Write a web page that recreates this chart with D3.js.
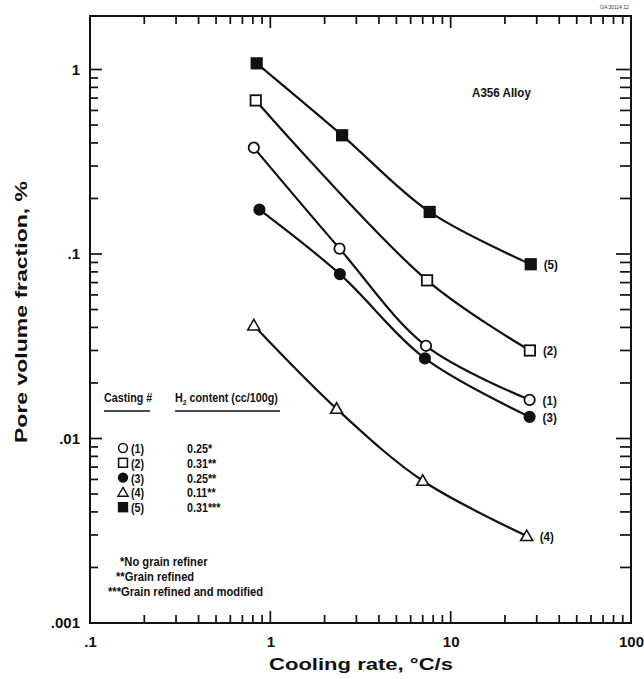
<!DOCTYPE html>
<html>
<head>
<meta charset="utf-8">
<script src="https://cdn.jsdelivr.net/npm/d3@7"></script>
<style>
  body { margin: 0; background: #fff; }
  svg { font-family: "Liberation Sans", Arial, sans-serif; }
</style>
</head>
<body>
<svg id="chart" width="644" height="679"></svg>
<script>
// casting data (x = cooling rate C/s, y = pore volume fraction %)
const castings = ["(1)", "(2)", "(3)", "(4)", "(5)"];
const symbols = ["circleOpen", "squareOpen", "circleFilled", "triangleOpen", "squareFilled"];
const h2Content = ["0.25*", "0.31**", "0.25**", "0.11**", "0.31***"];

const rate1 = [0.81, 2.42, 7.3, 27.4];
const pore1 = [0.377, 0.107, 0.0318, 0.0162];
const rate2 = [0.83, 7.4, 27.5];
const pore2 = [0.68, 0.072, 0.030];
const rate3 = [0.87, 2.43, 7.2, 27.4];
const pore3 = [0.174, 0.0778, 0.0272, 0.0131];
const rate4 = [0.81, 2.33, 7.0, 26.4];
const pore4 = [0.041, 0.0145, 0.0059, 0.00296];
const rate5 = [0.84, 2.5, 7.65, 27.8];
const pore5 = [1.08, 0.44, 0.169, 0.088];

const xMajor = [0.1, 1, 10, 100];
const xMajorLabels = [".1", "1", "10", "100"];
const yMajor = [0.001, 0.01, 0.1, 1];
const yMajorLabels = [".001", ".01", ".1", "1"];
const minorSteps = [2, 3, 4, 5, 6, 7, 8, 9];
const footnotes = ["*No grain refiner", "**Grain refined", "***Grain refined and modified"];

const series = [
  { x: rate1, y: pore1 },
  { x: rate2, y: pore2 },
  { x: rate3, y: pore3 },
  { x: rate4, y: pore4 },
  { x: rate5, y: pore5 }
];

const svg = d3.select("#chart");
const m = { left: 90, right: 631, top: 16, bottom: 623 };

const x = d3.scaleLog().domain([0.1, 100]).range([m.left, m.right]);
const y = d3.scaleLog().domain([0.001, 1.95]).range([m.bottom, m.top]);

// minor ticks 2..9 in each decade
function minors(decades) {
  const out = [];
  decades.forEach(d => minorSteps.forEach(k => out.push(d * k)));
  return out;
}
const xMinor = minors([0.1, 1, 10]);
const yMinor = minors([0.001, 0.01, 0.1]);

// frame
svg.append("rect")
  .attr("x", m.left).attr("y", m.top)
  .attr("width", m.right - m.left).attr("height", m.bottom - m.top)
  .attr("fill", "none").attr("stroke", "#111").attr("stroke-width", 2);

// inward ticks as thin bars, placed by the scales
const tw = 1.7;
function xTickBars(vals, len) {
  const g = svg.append("g").attr("fill", "#111");
  g.selectAll(null).data(vals).join("rect")
    .attr("x", d => x(d) - tw / 2).attr("y", m.bottom - len)
    .attr("width", tw).attr("height", len);
  g.selectAll(null).data(vals).join("rect")
    .attr("x", d => x(d) - tw / 2).attr("y", m.top)
    .attr("width", tw).attr("height", len);
}
function yTickBars(vals, lenL, lenR) {
  const g = svg.append("g").attr("fill", "#111");
  g.selectAll(null).data(vals).join("rect")
    .attr("x", m.left).attr("y", d => y(d) - tw / 2)
    .attr("width", lenL).attr("height", tw);
  g.selectAll(null).data(vals).join("rect")
    .attr("x", m.right - lenR).attr("y", d => y(d) - tw / 2)
    .attr("width", lenR).attr("height", tw);
}
xTickBars(xMinor, 8);
xTickBars(xMajor.slice(1, 3), 12);
yTickBars(yMinor, 8, 11);
yTickBars(yMajor.slice(1), 12, 15);

// tick labels
const xl = svg.append("g")
  .attr("transform", `translate(0,${m.bottom})`)
  .call(d3.axisBottom(x).tickValues(xMajor).tickSize(0).tickPadding(13)
    .tickFormat((d, i) => xMajorLabels[i]));
xl.select(".domain").remove();
xl.selectAll("text").attr("font-size", 15).attr("font-weight", "bold")
  .attr("font-family", "Liberation Sans, Arial, sans-serif").attr("fill", "#111");

const yl = svg.append("g")
  .attr("transform", `translate(${m.left},0)`)
  .call(d3.axisLeft(y).tickValues(yMajor).tickSize(0).tickPadding(10)
    .tickFormat((d, i) => yMajorLabels[i]));
yl.select(".domain").remove();
yl.selectAll("text").attr("font-size", 15).attr("font-weight", "bold")
  .attr("font-family", "Liberation Sans, Arial, sans-serif").attr("fill", "#111");

// axis titles
svg.append("text")
  .attr("x", 361).attr("y", 670)
  .attr("text-anchor", "middle").attr("font-size", 17).attr("font-weight", "bold")
  .attr("textLength", 184).attr("lengthAdjust", "spacingAndGlyphs")
  .attr("fill", "#111")
  .text("Cooling rate, \u00b0C/s");

svg.append("text")
  .attr("transform", `translate(27,312) rotate(-90)`)
  .attr("text-anchor", "middle").attr("font-size", 16.5).attr("font-weight", "bold")
  .attr("textLength", 262).attr("lengthAdjust", "spacingAndGlyphs")
  .attr("fill", "#111")
  .text("Pore volume fraction, %");

// curves
const curve = d3.line().curve(d3.curveCatmullRom.alpha(0.5));
series.forEach(s => {
  const pts = s.x.map((v, i) => [x(v), y(s.y[i])]);
  svg.append("path")
    .attr("d", curve(pts))
    .attr("fill", "none").attr("stroke", "#111").attr("stroke-width", 2.2);
});

// marker drawing
function marker(g, kind, cx, cy) {
  const filled = kind.endsWith("Filled");
  const fill = filled ? "#111" : "#fff";
  if (kind.startsWith("circle")) {
    g.append("circle").attr("cx", cx).attr("cy", cy).attr("r", 5.2)
      .attr("fill", fill).attr("stroke", "#111").attr("stroke-width", 1.8);
  } else if (kind.startsWith("square")) {
    g.append("rect").attr("x", cx - 5.2).attr("y", cy - 5.2).attr("width", 10.4).attr("height", 10.4)
      .attr("fill", fill).attr("stroke", "#111").attr("stroke-width", 1.8);
  } else {
    g.append("path")
      .attr("d", `M${cx},${cy - 6}L${cx + 6},${cy + 4.5}L${cx - 6},${cy + 4.5}Z`)
      .attr("fill", fill).attr("stroke", "#111").attr("stroke-width", 1.6);
  }
}

// condensed bold text helper (the figure uses a narrow face)
function narrowText(g, tx, ty, size, str) {
  return g.append("text")
    .attr("transform", `translate(${tx},${ty}) scale(0.86,1)`)
    .attr("font-size", size).attr("font-weight", "bold").attr("fill", "#111")
    .text(str);
}

series.forEach((s, k) => {
  const g = svg.append("g");
  s.x.forEach((v, i) => marker(g, symbols[k], x(v), y(s.y[i])));
  const last = s.x.length - 1;
  narrowText(svg, x(s.x[last]) + 13, y(s.y[last]) + 5, 13.5, castings[k]);
});

// annotation
narrowText(svg, 472, 97, 13.5, "A356 Alloy");
svg.append("text")
  .attr("x", 600).attr("y", 9).attr("font-size", 5).attr("fill", "#333")
  .text("GA 30114 12");

// legend
const lg = svg.append("g");
narrowText(lg, 104, 402, 12.5, "Casting #");
const h2 = narrowText(lg, 175, 402, 12.5, "");
h2.append("tspan").text("H");
h2.append("tspan").attr("font-size", 8).attr("dy", 3).text("2");
h2.append("tspan").attr("dy", -3).text(" content (cc/100g)");
lg.append("path").attr("d", "M104,411H150M175,411H280")
  .attr("stroke", "#111").attr("stroke-width", 1.5);

castings.forEach((c, i) => {
  const ry = 448 + i * 14.8;
  const mg = svg.append("g").attr("transform", `translate(123,${ry}) scale(0.85)`);
  marker(mg, symbols[i], 0, 0);
  narrowText(lg, 131, ry + 5, 12.5, c);
  narrowText(lg, 187, ry + 5, 12.5, h2Content[i]);
});

const footX = [120, 116, 108];
footnotes.forEach((f, i) => {
  narrowText(lg, footX[i], 566 + i * 15, 13, f);
});
</script>
</body>
</html>
